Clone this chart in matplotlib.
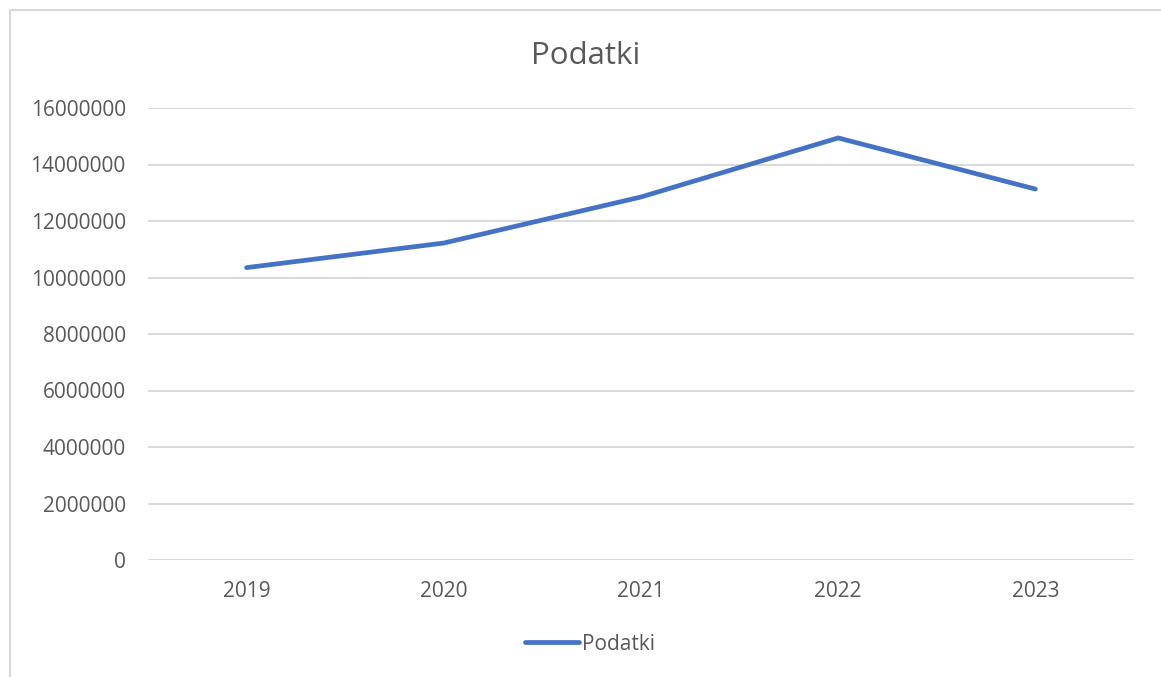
import matplotlib
matplotlib.use("Agg")
import matplotlib.pyplot as plt
from matplotlib.lines import Line2D

years = ["2019", "2020", "2021", "2022", "2023"]
podatki = [10350000, 11220000, 12850000, 14940000, 13130000]
y_ticks = [0, 2000000, 4000000, 6000000, 8000000, 10000000, 12000000, 14000000, 16000000]

plt.rcParams['font.family'] = ['Open Sans', 'DejaVu Sans']
W, H = 1161, 677
fig = plt.figure(figsize=(W / 100, H / 100), dpi=100)
ax = fig.add_axes([148 / W, 1 - 560 / H, (1134 - 148) / W, (560 - 108) / H])

x = list(range(len(years)))
ax.plot(x, podatki, color="#4472C4", lw=3.4, solid_capstyle="round", solid_joinstyle="round",
        label="Podatki", zorder=3)
ax.set_xlim(-0.5, len(years) - 0.5)
ax.set_ylim(0, 16000000)
ax.set_yticks(y_ticks)
ax.set_yticklabels([str(v) for v in y_ticks])
ax.set_xticks(x)
ax.set_xticklabels(years)
ax.grid(axis="y", color="#D9D9D9", lw=1.4, zorder=0)
for s in ax.spines.values():
    s.set_visible(False)
ax.tick_params(axis="both", length=0, colors="#595959", labelsize=15)
ax.tick_params(axis="y", pad=16)
ax.tick_params(axis="x", pad=15)

fig.text(586 / W, 1 - 56 / H, "Podatki", ha="center", va="center", fontsize=22.5, color="#595959")

leg = fig.legend(handles=[Line2D([0], [0], color="#4472C4", lw=3.4, solid_capstyle="round")],
                 labels=["Podatki"], loc="center", bbox_to_anchor=(590 / W, 1 - 644 / H),
                 frameon=False, fontsize=15, handlelength=2.6, handletextpad=0.15)
for t in leg.get_texts():
    t.set_color("#595959")

# outer chart border
fig.add_artist(Line2D([10 / W, 10 / W], [0, 1 - 10 / H], transform=fig.transFigure, color="#D9D9D9", lw=1.5))
fig.add_artist(Line2D([10 / W, 1], [1 - 10 / H, 1 - 10 / H], transform=fig.transFigure, color="#D9D9D9", lw=1.5))

fig.savefig("out.png", dpi=100)
